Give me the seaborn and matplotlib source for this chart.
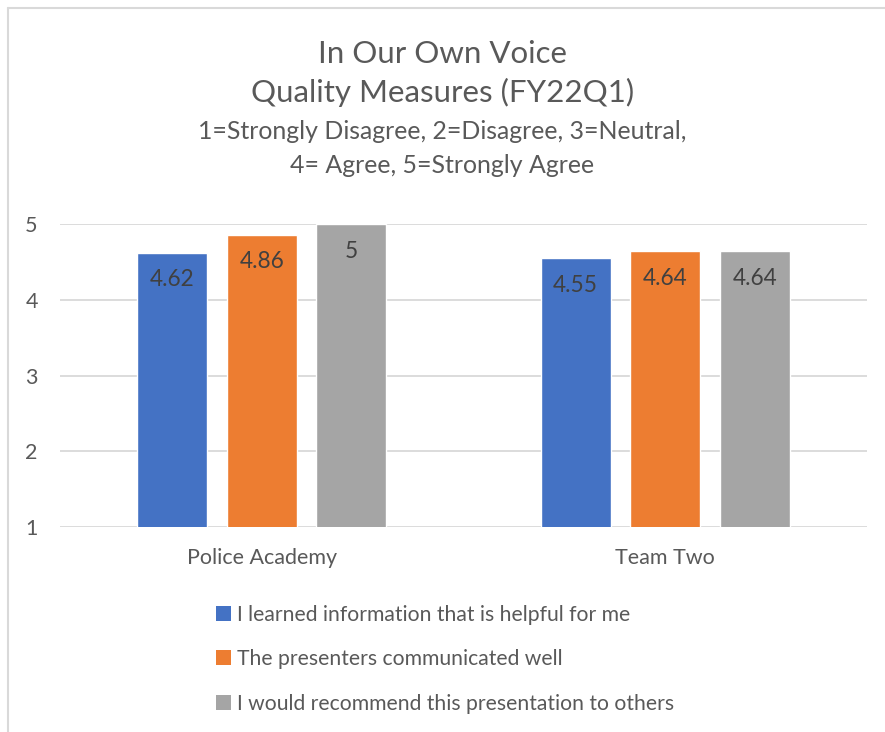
import matplotlib
matplotlib.use('Agg')
import matplotlib.pyplot as plt
from matplotlib.lines import Line2D
from matplotlib.patches import Patch
import pandas as pd
import seaborn as sns

# Chart data
groups = ['Police Academy', 'Team Two']
measures = ['I learned information that is helpful for me',
            'The presenters communicated well',
            'I would recommend this presentation to others']
learned = [4.62, 4.55]
communicated = [4.86, 4.64]
recommend = [5, 4.64]
colors = ['#4472C4', '#ED7D31', '#A5A5A5']
yticks = [1, 2, 3, 4, 5]

df = pd.DataFrame({
    'group': groups * 3,
    'measure': [measures[0]] * 2 + [measures[1]] * 2 + [measures[2]] * 2,
    'score': learned + communicated + recommend,
})

sns.set_theme(style='white')
plt.rcParams['font.family'] = ['Lato', 'DejaVu Sans']
text_color = '#595959'

fig = plt.figure(figsize=(8.85, 7.32), dpi=100)
ax = fig.add_axes([60 / 885, 1 - 527 / 732, 807 / 885, 303 / 732])

sns.barplot(data=df, x='group', y='score', hue='measure', hue_order=measures,
            palette=colors, width=0.667, gap=0.22, saturation=1,
            ax=ax, legend=False, zorder=3)

ax.set_ylim(1, 5)
ax.set_xlim(-0.5, 1.5)
ax.set_yticks(yticks)
ax.yaxis.grid(True, color='#D9D9D9', linewidth=1.3, zorder=0)
ax.set_axisbelow(True)
for s in ax.spines.values():
    s.set_visible(False)
ax.set_xlabel('')
ax.set_ylabel('')
ax.tick_params(axis='y', labelsize=15.5, colors=text_color, pad=16, length=0)
ax.tick_params(axis='x', labelsize=15.5, colors=text_color, pad=15, length=0)

# value labels inside bar ends
for cont in ax.containers:
    for bar in cont:
        h = bar.get_height()
        ax.annotate(f'{h:g}', (bar.get_x() + bar.get_width() / 2, h),
                    xytext=(0, -27), textcoords='offset pixels',
                    ha='center', va='center', fontsize=16.3, color='#404040')

# titles
fig.text(0.5, 1 - 63 / 732, 'In Our Own Voice', ha='center', va='baseline',
         fontsize=22.5, color=text_color)
fig.text(0.5, 1 - 102 / 732, 'Quality Measures (FY22Q1)', ha='center', va='baseline',
         fontsize=22.5, color=text_color)
fig.text(0.5, 1 - 139 / 732, '1=Strongly Disagree, 2=Disagree, 3=Neutral,',
         ha='center', va='baseline', fontsize=17.9, color=text_color)
fig.text(0.5, 1 - 173 / 732, '4= Agree, 5=Strongly Agree',
         ha='center', va='baseline', fontsize=17.9, color=text_color)

# legend
handles = [Patch(facecolor=c, edgecolor='none') for c in colors]
fig.legend(handles, measures, loc='upper left', bbox_to_anchor=(197 / 885, 1 - 586 / 732),
           frameon=False, fontsize=15.2, labelcolor=text_color,
           handlelength=0.7, handleheight=0.7, handletextpad=0.3,
           labelspacing=1.15)

# chart area border (top and left edges visible)
fig.add_artist(Line2D([8 / 885, 1], [1 - 8 / 732, 1 - 8 / 732], color='#D9D9D9', lw=1.5))
fig.add_artist(Line2D([8 / 885, 8 / 885], [0, 1 - 8 / 732], color='#D9D9D9', lw=1.5))

fig.savefig('out.png', dpi=100)
